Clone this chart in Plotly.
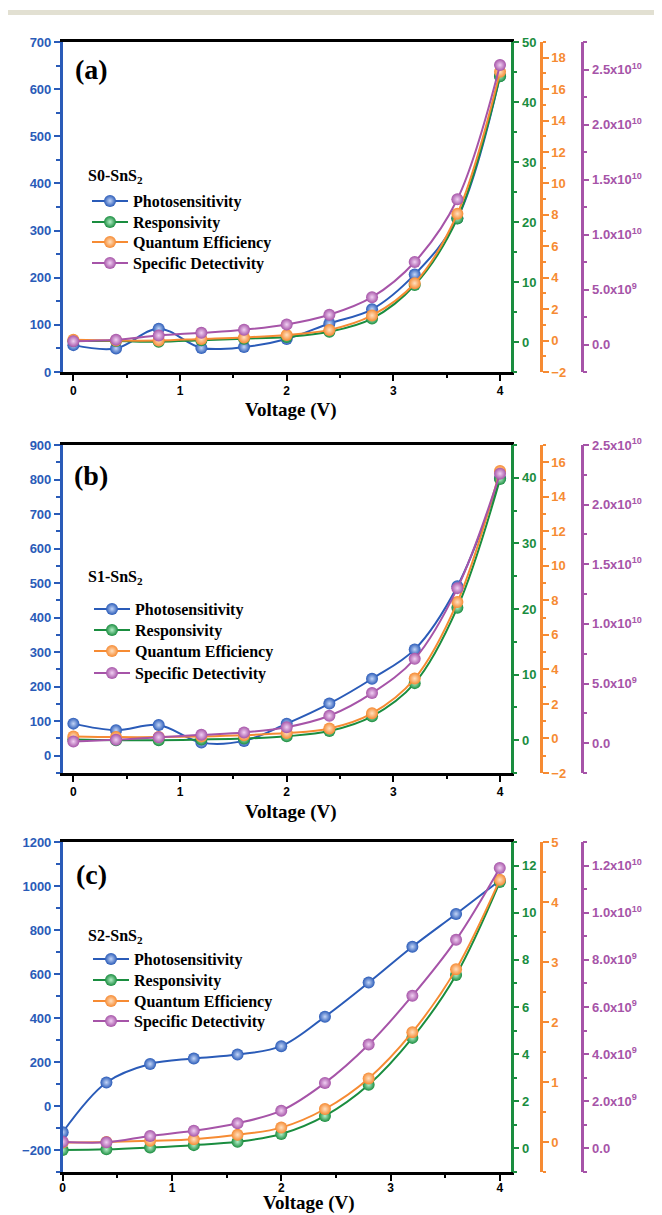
import plotly.graph_objects as go

# ---------------- data ----------------
voltage = [0, 0.4, 0.8, 1.2, 1.6, 2.0, 2.4, 2.8, 3.2, 3.6, 4.0]

a_photo = [57, 50, 92, 51, 53, 70, 103, 133, 207, 326, 628]
a_resp = [0.15, 0.15, 0.05, 0.3, 0.55, 0.85, 1.7, 3.9, 9.5, 20.6, 44.3]
a_qe = [0.05, 0.0, 0.0, 0.1, 0.2, 0.36, 0.68, 1.6, 3.65, 8.07, 17.1]
a_sd = [3.0e8, 4.3e8, 8.2e8, 1.06e9, 1.34e9, 1.82e9, 2.7e9, 4.3e9, 7.5e9, 1.32e10, 2.54e10]

b_photo = [93, 74, 89, 38, 43, 93, 151, 223, 308, 491, 804]
b_resp = [0.1, 0.0, 0.0, 0.1, 0.25, 0.6, 1.4, 3.65, 8.7, 20.2, 39.8]
b_qe = [0.12, 0.08, 0.08, 0.12, 0.19, 0.31, 0.58, 1.46, 3.47, 7.9, 15.5]
b_sd = [1.4e8, 2.8e8, 5.0e8, 7.0e8, 9.0e8, 1.34e9, 2.3e9, 4.2e9, 7.07e9, 1.3e10, 2.26e10]

c_photo = [-119, 107, 191, 216, 234, 272, 406, 561, 724, 873, 1025]
c_resp = [-0.07, -0.04, 0.04, 0.14, 0.28, 0.61, 1.38, 2.7, 4.69, 7.36, 11.3]
c_qe = [-0.01, 0.0, 0.02, 0.045, 0.12, 0.24, 0.55, 1.06, 1.83, 2.88, 4.37]
c_sd = [2.8e8, 2.6e8, 5.3e8, 7.5e8, 1.07e9, 1.6e9, 2.78e9, 4.41e9, 6.48e9, 8.85e9, 1.19e10]

series_names = ["Photosensitivity", "Responsivity", "Quantum Efficiency", "Specific Detectivity"]
sample_names = ["S0-SnS<sub>2</sub>", "S1-SnS<sub>2</sub>", "S2-SnS<sub>2</sub>"]
panel_tags = ["(a)", "(b)", "(c)"]
x_title = "Voltage (V)"
x_ticks = [0, 1, 2, 3, 4]

# purple axis tick labels
sd_vals_ab = [0, 5e9, 1e10, 1.5e10, 2e10, 2.5e10]
sd_text_ab = ["0.0", "5.0x10<sup>9</sup>", "1.0x10<sup>10</sup>", "1.5x10<sup>10</sup>",
              "2.0x10<sup>10</sup>", "2.5x10<sup>10</sup>"]
sd_vals_c = [0, 2e9, 4e9, 6e9, 8e9, 1e10, 1.2e10]
sd_text_c = ["0.0", "2.0x10<sup>9</sup>", "4.0x10<sup>9</sup>", "6.0x10<sup>9</sup>",
             "8.0x10<sup>9</sup>", "1.0x10<sup>10</sup>", "1.2x10<sup>10</sup>"]

# ---------------- style / geometry ----------------
PAGE_W, PAGE_H = 662, 1215
OFF = 8  # default body margin of the html page
W, H = PAGE_W - OFF, PAGE_H - OFF


def px(xp):
    return (xp - OFF) / W


def py(yp):
    return 1 - (yp - OFF) / H


BLUE = "#2a5bb8"
GREEN = "#1a8d3f"
ORANGE = "#f68b33"
PURPLE = "#a654a8"
colors = [BLUE, GREEN, ORANGE, PURPLE]
lights = ["#c3d5f7", "#b5eec8", "#ffe0c0", "#f0d0f2"]
SANS = "Liberation Sans"
SERIF = "Liberation Serif"

panels = [
    dict(data=[a_photo, a_resp, a_qe, a_sd], top=42, bot=372, xr=[-0.1, 4.1],
         ax=[dict(r=[0, 700], d=100, m=50),
             dict(r=[-5, 50], d=10, m=5),
             dict(r=[-2, 19], d=2, m=1),
             dict(r=[-2.5e9, 2.75e10], vals=sd_vals_ab, text=sd_text_ab, m=2.5e9)],
         tag_y=70, title_y=177, leg=[201, 222, 242, 263], leg_x=87,
         xt=(291, 410), tls=0),
    dict(data=[b_photo, b_resp, b_qe, b_sd], top=445, bot=773, xr=[-0.1, 4.1],
         ax=[dict(r=[-50, 900], d=100, m=50),
             dict(r=[-5, 45], d=10, m=5),
             dict(r=[-2, 17], d=2, m=1),
             dict(r=[-2.5e9, 2.5e10], vals=sd_vals_ab, text=sd_text_ab, m=2.5e9)],
         tag_y=475, title_y=577, leg=[609, 630, 651, 673], leg_x=89,
         xt=(291, 812), tls=0),
    dict(data=[c_photo, c_resp, c_qe, c_sd], top=842, bot=1172, xr=[0, 4.1],
         ax=[dict(r=[-300, 1200], d=200, m=100),
             dict(r=[-1, 13], d=2, m=1),
             dict(r=[-0.5, 5], d=1, m=0.5),
             dict(r=[-1e9, 1.3e10], vals=sd_vals_c, text=sd_text_c, m=1e9)],
         tag_y=874, title_y=936, leg=[959, 980, 1001, 1021], leg_x=88,
         xt=(309, 1203), tls=-3),
]

x_left, x_right = px(62.7), px(510.7)
pos_orange, pos_purple = px(541.0), px(581.7)

fig = go.Figure()
layout = dict(width=W, height=H, margin=dict(l=0, r=0, t=0, b=0, autoexpand=False),
              paper_bgcolor="white", plot_bgcolor="white", template="none",
              showlegend=True)
annotations = []

for p, pan in enumerate(panels):
    xa = "x" if p == 0 else f"x{p + 1}"
    xkey = "xaxis" if p == 0 else f"xaxis{p + 1}"
    ybase = 4 * p + 1
    ynames = [("y" if ybase + k == 1 else f"y{ybase + k}") for k in range(4)]
    ykeys = [("yaxis" if ybase + k == 1 else f"yaxis{ybase + k}") for k in range(4)]
    dom = [py(pan["bot"]), py(pan["top"])]

    for k in range(4):
        li = 4 * p + k + 1
        legkey = "legend" if li == 1 else f"legend{li}"
        fig.add_trace(go.Scatter(
            x=voltage, y=pan["data"][k], name=series_names[k],
            xaxis=xa, yaxis=ynames[k], legend=legkey,
            mode="lines+markers",
            line=dict(color=colors[k], width=2, shape="spline", smoothing=1),
            marker=dict(size=12, color=colors[k],
                        gradient=dict(type="radial", color=lights[k]),
                        line=dict(width=0)),
        ))
        layout[legkey] = dict(
            x=px(pan["leg_x"]), y=py(pan["leg"][k]), xanchor="left", yanchor="middle",
            bgcolor="rgba(0,0,0,0)", borderwidth=0, itemwidth=36, tracegroupgap=0,
            font=dict(family=SERIF, size=16, color="black", weight="bold"),
        )

    layout[xkey] = dict(
        domain=[x_left, x_right], anchor=ynames[0], range=pan["xr"],
        tickmode="array", tickvals=x_ticks, ticks="outside", ticklen=6, tickwidth=2,
        tickcolor="black", showline=True, linecolor="black", linewidth=2.5,
        mirror=True, showgrid=False, zeroline=False, automargin=False,
        ticklabelstandoff=pan["tls"],
        tickfont=dict(family=SANS, size=12, color="black", weight="bold"),
        minor=dict(dtick=0.5, tick0=0, ticks="outside", ticklen=3.5, tickwidth=2,
                   tickcolor="black"),
    )

    for k in range(4):
        a = pan["ax"][k]
        yd = dict(range=a["r"], showgrid=False, zeroline=False, automargin=False,
                  showline=True, linecolor=colors[k], linewidth=2.5,
                  ticks="outside", ticklen=6, tickwidth=2, tickcolor=colors[k],
                  tickfont=dict(family=SANS, size=13, color=colors[k], weight="bold"),
                  minor=dict(ticks="outside", ticklen=3.5, tickwidth=2,
                             tickcolor=colors[k], dtick=a["m"], tick0=0))
        if "vals" in a:
            yd.update(tickmode="array", tickvals=a["vals"], ticktext=a["text"])
        else:
            yd.update(tickmode="linear", tick0=0, dtick=a["d"])
        if k == 0:
            yd.update(domain=dom, anchor=xa, side="left")
        elif k == 1:
            yd.update(overlaying=ynames[0], anchor=xa, side="right")
        else:
            yd.update(overlaying=ynames[0], anchor="free", side="right",
                      position=pos_orange if k == 2 else pos_purple)
        layout[ykeys[k]] = yd

    annotations.append(dict(
        text=panel_tags[p], xref="paper", yref="paper", x=px(91), y=py(pan["tag_y"]),
        xanchor="center", yanchor="middle", showarrow=False,
        font=dict(family=SERIF, size=28, color="black", weight="bold")))
    annotations.append(dict(
        text=sample_names[p], xref="paper", yref="paper", x=px(86), y=py(pan["title_y"]),
        xanchor="left", yanchor="middle", showarrow=False,
        font=dict(family=SERIF, size=16, color="black", weight="bold")))
    annotations.append(dict(
        text=x_title, xref="paper", yref="paper", x=px(pan["xt"][0]), y=py(pan["xt"][1]),
        xanchor="center", yanchor="middle", showarrow=False,
        font=dict(family=SERIF, size=19, color="black", weight="bold")))

layout["annotations"] = annotations
layout["shapes"] = [dict(type="rect", xref="paper", yref="paper",
                         x0=0, x1=1, y0=py(15), y1=py(10),
                         fillcolor="#e2e0d2", line=dict(width=0), layer="below")]
fig.update_layout(**layout)
fig.write_html("out.html")
